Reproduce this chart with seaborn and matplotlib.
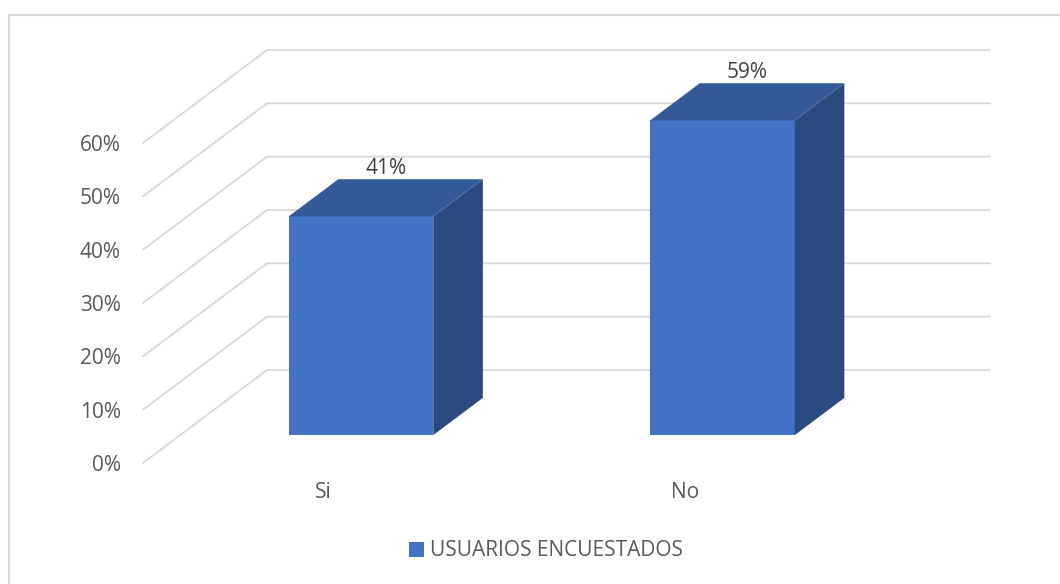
import numpy as np
import pandas as pd
import seaborn as sns
import matplotlib
matplotlib.use("Agg")
import matplotlib.pyplot as plt
from matplotlib.patches import Polygon, Rectangle, Patch
from matplotlib.lines import Line2D
from matplotlib.transforms import ScaledTranslation

# ---- data ----
categories = ["Si", "No"]
values = [41, 59]
series_name = "USUARIOS ENCUESTADOS"
yticks = [0, 10, 20, 30, 40, 50, 60]
ytick_labels = [f"{v}%" for v in yticks]
value_labels = [f"{v}%" for v in values]

# ---- style ----
FRONT = "#4472C4"
TOP = "#345A98"
SIDE = "#2B4A80"
GRID = "#D9D9D9"
TXT = "#595959"
DEPTH_PX = (124.0, 93.0)   # oblique depth vector in pixels (full depth)
D0, D1 = 0.30, 0.70        # bar depth range
FS = 15

sns.set_theme(style="white")
plt.rcParams['font.family'] = ['Open Sans', 'DejaVu Sans']

DPI = 100
fig = plt.figure(figsize=(10.6, 5.84), dpi=DPI)
W, H = 1060, 584
ax = fig.add_axes([143 / W, 121 / H, 723 / W, 320 / H])
ax.patch.set_visible(False)

df = pd.DataFrame({"cat": categories, "val": values})
sns.barplot(data=df, x="cat", y="val", color=FRONT, width=0.4, saturation=1,
            ax=ax, zorder=5, linewidth=0)
ax.set_xlim(-0.5, 1.5)
ax.set_ylim(0, 60)
for s in ax.spines.values():
    s.set_visible(False)
ax.set_xlabel("")
ax.set_ylabel("")
ax.set_yticks(yticks, ytick_labels)
ax.tick_params(axis="y", length=0, pad=16, labelsize=FS, labelcolor=TXT)
ax.tick_params(axis="x", length=0, pad=14, labelsize=FS, labelcolor=TXT)
ax.grid(False)


def proj(x, y, d):
    """data point on front plane + depth fraction -> figure fraction"""
    px = ax.transData.transform((x, y))
    px = px + np.array([DEPTH_PX[0] * d, DEPTH_PX[1] * d])
    return fig.transFigure.inverted().transform(px)


# back wall gridlines with diagonal side
x0, x1 = ax.get_xlim()
for v in yticks:
    pts = np.array([proj(x0, v, 0), proj(x0, v, 1), proj(x1, v, 1)])
    fig.add_artist(Line2D(pts[:, 0], pts[:, 1], color=GRID, lw=1.3,
                          transform=fig.transFigure, zorder=-2))

# 3D faces from the seaborn bars
offset = ScaledTranslation(DEPTH_PX[0] * D0 / DPI, DEPTH_PX[1] * D0 / DPI,
                           fig.dpi_scale_trans)
for patch, lab in zip(ax.patches, value_labels):
    bx, bw, bh = patch.get_x(), patch.get_width(), patch.get_height()
    # side face
    side = [proj(bx + bw, 0, D0), proj(bx + bw, 0, D1),
            proj(bx + bw, bh, D1), proj(bx + bw, bh, D0)]
    fig.add_artist(Polygon(side, closed=True, facecolor=SIDE, edgecolor="none",
                           transform=fig.transFigure, zorder=3))
    # top face
    top = [proj(bx, bh, D0), proj(bx + bw, bh, D0),
           proj(bx + bw, bh, D1), proj(bx, bh, D1)]
    fig.add_artist(Polygon(top, closed=True, facecolor=TOP, edgecolor="none",
                           transform=fig.transFigure, zorder=3))
    # front face shifted to bar depth
    patch.set_transform(ax.transData + offset)
    patch.set_clip_on(False)
    # value label
    lx = proj(bx + bw / 2, bh, (D0 + D1) / 2)[0]
    ly = proj(bx + bw / 2, bh, D1)[1]
    fig.text(lx, ly + 0 / H, lab, ha="center", va="bottom", fontsize=FS,
             color="#404040", zorder=6)

# legend
handle = Patch(facecolor=FRONT, edgecolor="none")
fig.legend([handle], [series_name], loc="center",
           bbox_to_anchor=(546 / W, 1 - 551 / H), frameon=False,
           fontsize=FS, labelcolor=TXT, handlelength=0.7, handleheight=0.7,
           handletextpad=0.3)

# chart area border
fig.add_artist(Rectangle((9 / W, -0.1), 1.5, 1.1 - 15 / H, fill=False,
                         edgecolor=GRID, lw=1.5, transform=fig.transFigure,
                         zorder=-3))

fig.savefig("out.png", dpi=DPI, facecolor="white")
